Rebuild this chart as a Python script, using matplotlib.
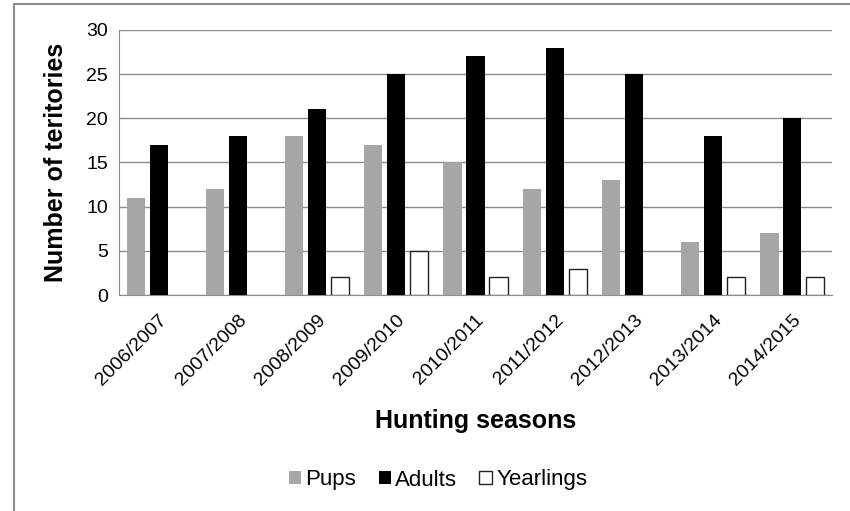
import matplotlib
matplotlib.use("Agg")
import matplotlib.pyplot as plt
import numpy as np
from matplotlib.patches import Rectangle

plt.rcParams['font.family'] = ['Liberation Sans', 'DejaVu Sans']

seasons = ["2006/2007", "2007/2008", "2008/2009", "2009/2010", "2010/2011",
           "2011/2012", "2012/2013", "2013/2014", "2014/2015"]
pups = [11, 12, 18, 17, 15, 12, 13, 6, 7]
adults = [17, 18, 21, 25, 27, 28, 25, 18, 20]
yearlings = [0, 0, 2, 5, 2, 3, 0, 2, 2]

fig = plt.figure(figsize=(8.5, 5.11), dpi=100)
ax = fig.add_axes([119/850, 1 - 295/511, (832-119)/850, (295-30)/511])

x = np.arange(len(seasons))
w = 0.23
off = 0.29
ax.bar(x - off, pups, w, color='#a6a6a6', label='Pups', zorder=3)
ax.bar(x, adults, w, color='black', label='Adults', zorder=3)
ye_edges = ['#222222' if v > 0 else 'none' for v in yearlings]
ax.bar(x + off, yearlings, w, color='white', edgecolor=ye_edges, linewidth=1.0, zorder=3)
# legend proxy for yearlings
ax.bar([0], [0], 0, color='white', edgecolor='#222222', linewidth=1.0, label='Yearlings')

ax.set_xlim(-0.5, len(seasons) - 0.5)
ax.set_ylim(0, 30)
ax.set_yticks(range(0, 31, 5))
ax.yaxis.grid(True, color='#8c8c8c', linewidth=1, zorder=0)
ax.set_axisbelow(True)
for s in ['top', 'right']:
    ax.spines[s].set_visible(False)
for s in ['left', 'bottom']:
    ax.spines[s].set_color('#8c8c8c')
ax.tick_params(axis='both', length=0, labelsize=14)
ax.tick_params(axis='y', pad=8)
ax.tick_params(axis='x', pad=12)
ax.set_xticks(x)
ax.set_xticklabels(seasons, rotation=45, ha='right', rotation_mode='anchor')

ax.set_ylabel('Number of teritories', fontsize=18, fontweight='bold')
ax.yaxis.set_label_coords((56 - 119) / 713, 0.5)
ax.yaxis.label.set_va('center')
ax.set_xlabel('Hunting seasons', fontsize=18, fontweight='bold')
ax.xaxis.set_label_coords(0.5, -(421 - 295) / 265)
ax.xaxis.label.set_va('center')

handles, labels = ax.get_legend_handles_labels()
ax.legend(handles, labels, loc='center', bbox_to_anchor=(438/850, 1 - 480/511),
          bbox_transform=fig.transFigure,
          ncol=3, frameon=False, fontsize=16, handlelength=0.55, handleheight=0.55,
          handletextpad=0.2, columnspacing=1.0)

fig.patches.append(Rectangle((14/850, -0.1), 1.2, 1 - 4/511 + 0.1, transform=fig.transFigure,
                             fill=False, edgecolor='#8c8c8c', linewidth=1.5))

fig.savefig('out.png', dpi=100)
